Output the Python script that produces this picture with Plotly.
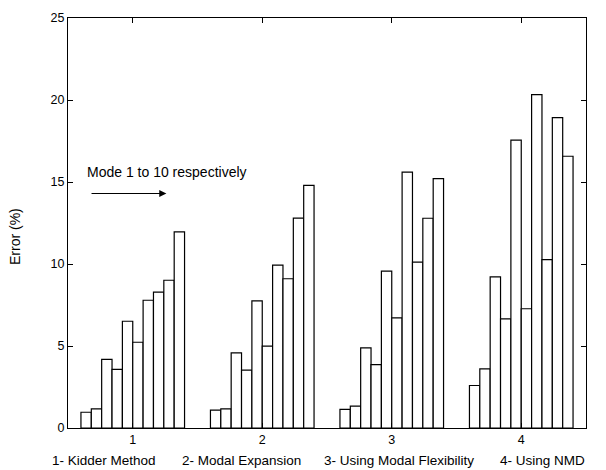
import plotly.graph_objects as go

groups = [1, 2, 3, 4]
group_labels = ["1", "2", "3", "4"]
# rows = modes 1..10, columns = groups 1..4
mode_values = [
    [0.96, 1.09, 1.13, 2.59],
    [1.17, 1.17, 1.33, 3.61],
    [4.18, 4.58, 4.89, 9.22],
    [3.57, 3.53, 3.87, 6.66],
    [6.51, 7.75, 9.56, 17.55],
    [5.23, 4.99, 6.72, 7.27],
    [7.79, 9.93, 15.60, 20.33],
    [8.28, 9.10, 10.11, 10.27],
    [9.01, 12.80, 12.79, 18.93],
    [11.96, 14.79, 15.21, 16.57],
]
y_ticks = [0, 5, 10, 15, 20, 25]
method_names = ["1- Kidder Method", "2- Modal Expansion",
                "3- Using Modal Flexibility", "4- Using NMD"]

font = "Liberation Sans, Arial, sans-serif"
L, R, T, B, W, H = 68, 20, 18, 42, 606, 470
pw, ph = W - L - R, H - T - B

fig = go.Figure()
for i, vals in enumerate(mode_values):
    fig.add_trace(go.Bar(
        x=groups, y=vals, name=f"Mode {i+1}",
        marker=dict(color="white", line=dict(color="black", width=1.2)),
        showlegend=False,
    ))

caption_left_px = [50, 180, 322, 498]
annotations = [
    dict(text="Mode 1 to 10 respectively", x=(85 - L) / pw, y=(H - B - 172) / ph,
         xref="paper", yref="paper", xanchor="left", yanchor="middle",
         showarrow=False, font=dict(size=14)),
    dict(x=1.26, y=14.3, ax=0.67, ay=14.3, xref="x", yref="y", axref="x", ayref="y",
         text="", showarrow=True, arrowhead=2, arrowsize=1.2, arrowwidth=1.2,
         arrowcolor="black"),
    dict(text="Error (%)", x=(15 - L) / pw, y=(H - B - 237) / ph,
         xref="paper", yref="paper", xanchor="center", yanchor="middle",
         showarrow=False, textangle=-90, font=dict(size=14)),
]
for name, px in zip(method_names, caption_left_px):
    annotations.append(dict(text=name, x=(px - L) / pw, y=(H - B - 460) / ph,
                            xref="paper", yref="paper", xanchor="left",
                            yanchor="middle", showarrow=False, font=dict(size=13.5)))

fig.update_layout(
    width=W, height=H,
    margin=dict(l=L, r=R, t=T, b=B),
    paper_bgcolor="white", plot_bgcolor="white",
    barmode="group", bargap=0.2, bargroupgap=0,
    font=dict(family=font, size=12.5, color="black"),
    xaxis=dict(
        range=[0.5, 4.5], tickvals=groups, ticktext=group_labels,
        ticks="inside", ticklen=5, tickcolor="black",
        showline=True, linecolor="black", linewidth=1, mirror="ticks",
        showgrid=False, zeroline=False,
    ),
    yaxis=dict(
        range=[0, 25], tickvals=y_ticks,
        ticks="inside", ticklen=5, tickcolor="black",
        showline=True, linecolor="black", linewidth=1, mirror="ticks",
        showgrid=False, zeroline=False,
    ),
    annotations=annotations,
)
fig.write_html("out.html", config={"displayModeBar": False},
               post_script="document.body.style.margin='0';")
